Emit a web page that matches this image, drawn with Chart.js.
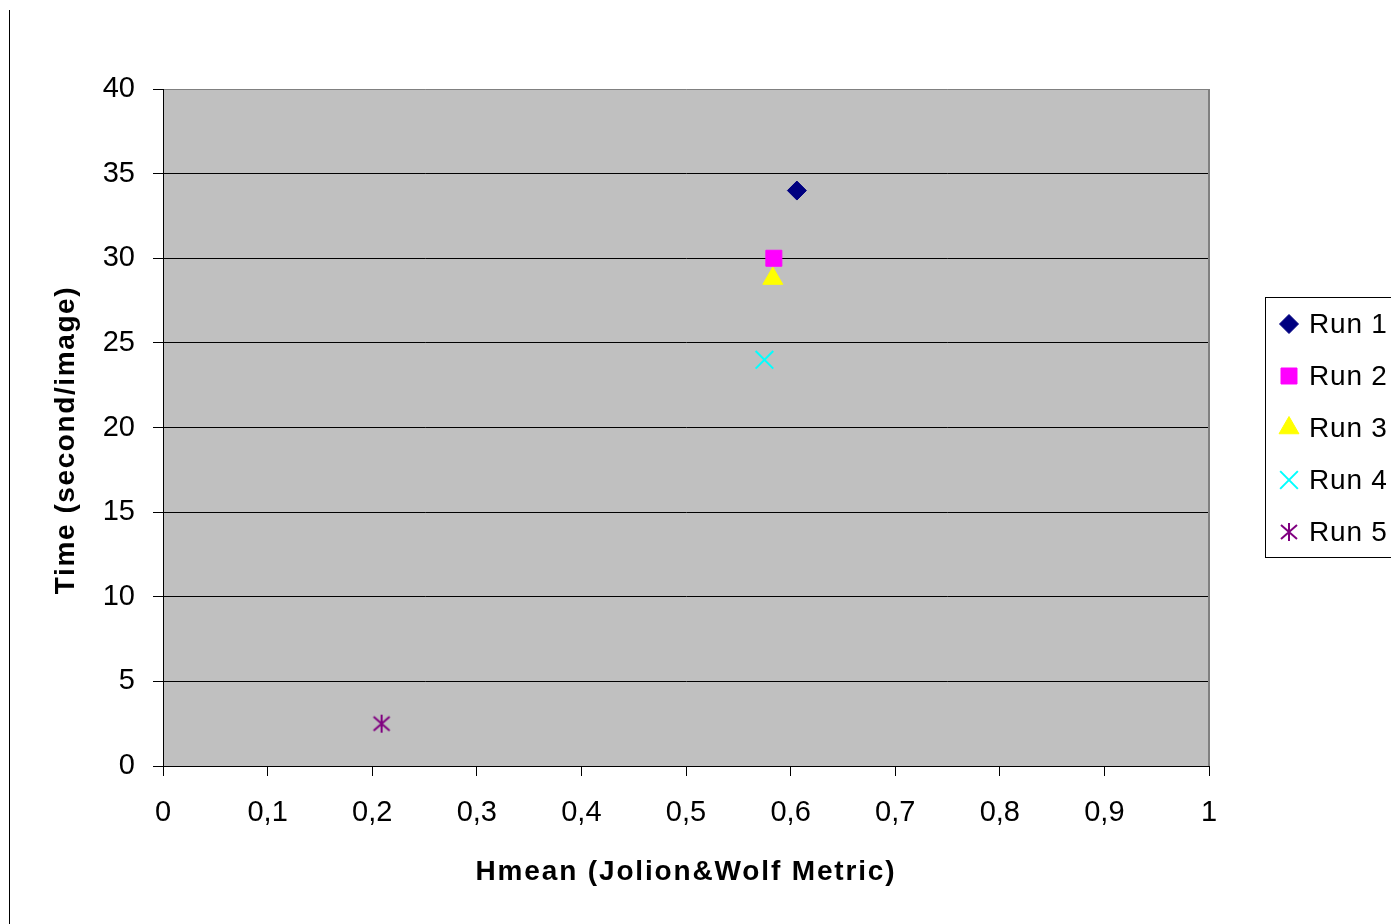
<!DOCTYPE html>
<html>
<head>
<meta charset="utf-8">
<script src="https://cdn.jsdelivr.net/npm/chart.js@4/dist/chart.umd.min.js"></script>
<style>
  html, body { margin: 0; padding: 0; background: #fff; overflow: hidden; }
  #wrap { position: relative; width: 1391px; height: 924px; }
  #edge { position: absolute; left: 9px; top: 10px; width: 1px; height: 914px; background: #000; }
  canvas { position: absolute; left: 0; top: 0; }
</style>
</head>
<body>
<div id="wrap">
  <canvas id="c" width="1391" height="924"></canvas>
  <div id="edge"></div>
</div>
<script>
// Detection quality vs. processing time for each run
const runNames = ['Run 1', 'Run 2', 'Run 3', 'Run 4', 'Run 5'];
const hmean = [0.606, 0.584, 0.583, 0.575, 0.209];
const timePerImage = [34, 30, 28.8, 24, 2.5];

const xTickLabels = ['0', '0,1', '0,2', '0,3', '0,4', '0,5', '0,6', '0,7', '0,8', '0,9', '1'];
const yTickLabels = ['0', '5', '10', '15', '20', '25', '30', '35', '40'];

// marker look per run
const runColors = ['#000080', '#FF00FF', '#FFFF00', '#00FFFF', '#800080'];

const FONT = "'Liberation Sans', Arial, sans-serif";
const TITLE_SPACING = { x: '1.85px', y: '1.6px' };

// six-armed asterisk marker
function asteriskMarker(color) {
  const s = 22, c = document.createElement('canvas');
  c.width = s; c.height = s;
  const g = c.getContext('2d');
  g.strokeStyle = color; g.lineWidth = 2; g.lineCap = 'butt';
  g.beginPath();
  g.moveTo(s / 2, 2); g.lineTo(s / 2, s - 2);
  g.moveTo(3, 4); g.lineTo(s - 3, s - 4);
  g.moveTo(s - 3, 4); g.lineTo(3, s - 4);
  g.stroke();
  return c;
}

const runStyles = [
  { pointStyle: 'rectRot', pointRadius: 9.5, borderWidth: 1 },
  { pointStyle: 'rect', pointRadius: 11.3, borderWidth: 1 },
  { pointStyle: 'triangle', pointRadius: 11.5, borderWidth: 1 },
  { pointStyle: 'crossRot', pointRadius: 12.5, borderWidth: 2 },
  { pointStyle: asteriskMarker(runColors[4]), pointRadius: 10, borderWidth: 0 }
];

const datasets = runNames.map((name, i) => ({
  label: name,
  data: [{ x: hmean[i], y: timePerImage[i] }],
  backgroundColor: runColors[i],
  borderColor: runColors[i],
  pointStyle: runStyles[i].pointStyle,
  pointRadius: runStyles[i].pointRadius,
  pointHoverRadius: runStyles[i].pointRadius,
  borderWidth: runStyles[i].borderWidth,
  pointBorderWidth: runStyles[i].borderWidth
}));

const plotFrame = {
  id: 'plotFrame',
  beforeDraw(chart) {
    const { ctx, chartArea: a } = chart;
    // axis titles are drawn slightly letter-spaced
    Object.values(chart.scales).forEach((s) => {
      if (s._spacedTitle) return;
      const orig = s.drawTitle;
      const spacing = TITLE_SPACING[s.id] || '0px';
      s.drawTitle = function () {
        const prev = this.ctx.letterSpacing;
        this.ctx.letterSpacing = spacing;
        orig.apply(this, arguments);
        this.ctx.letterSpacing = prev;
      };
      s._spacedTitle = true;
    });
    ctx.save();
    ctx.fillStyle = '#C0C0C0';
    ctx.fillRect(a.left, a.top, a.right - a.left, a.bottom - a.top);
    ctx.restore();
  },
  beforeDatasetsDraw(chart) {
    const { ctx, chartArea: a } = chart;
    ctx.save();
    ctx.strokeStyle = '#808080';
    ctx.lineWidth = 2;
    ctx.beginPath();
    ctx.moveTo(Math.round(a.right), a.top);
    ctx.lineTo(Math.round(a.right), a.bottom);
    ctx.stroke();
    ctx.restore();
  },
  afterDraw(chart) {
    // boxed legend to the right of the plot
    const { ctx } = chart;
    const h = Chart.helpers;
    ctx.save();
    ctx.strokeStyle = '#000';
    ctx.lineWidth = 1;
    ctx.strokeRect(1265.5, 297.5, 200, 260);
    ctx.font = '28px ' + FONT;
    ctx.letterSpacing = '0.8px';
    ctx.textBaseline = 'middle';
    ctx.textAlign = 'left';
    chart.data.datasets.forEach((ds, i) => {
      const y = 324 + i * 52;
      ctx.fillStyle = ds.backgroundColor;
      ctx.strokeStyle = ds.borderColor;
      ctx.lineWidth = ds.borderWidth;
      h.drawPoint(ctx, { pointStyle: ds.pointStyle, radius: ds.pointRadius, rotation: 0, borderWidth: ds.borderWidth }, 1289, y);
      ctx.fillStyle = '#000';
      ctx.fillText(ds.label, 1309, y + 1);
    });
    ctx.restore();
  }
};

new Chart(document.getElementById('c'), {
  type: 'scatter',
  data: { datasets },
  plugins: [plotFrame],
  options: {
    responsive: false,
    animation: false,
    events: [],
    layout: { padding: { top: 89, right: 182, bottom: 0, left: 0 } },
    plugins: { legend: { display: false }, tooltip: { enabled: false } },
    scales: {
      x: {
        type: 'linear',
        min: 0, max: 1,
        afterFit(s) { s.height = 158; },
        afterBuildTicks(s) { s.ticks = xTickLabels.map((_, i) => ({ value: i / 10 })); },
        ticks: {
          callback: (v, i) => xTickLabels[i],
          color: '#000',
          font: { family: FONT, size: 29 },
          padding: 20,
          maxRotation: 0,
          autoSkip: false
        },
        grid: { drawOnChartArea: false, drawTicks: true, tickLength: 10, color: '#000', tickColor: '#000' },
        border: { color: '#000', width: 1 },
        title: {
          display: true,
          text: 'Hmean (Jolion&Wolf Metric)',
          color: '#000',
          font: { family: FONT, size: 28, weight: 'bold' },
          padding: { top: 0, bottom: 35 }
        }
      },
      y: {
        type: 'linear',
        min: 0, max: 40,
        afterFit(s) { s.width = 163; },
        afterBuildTicks(s) { s.ticks = yTickLabels.map((_, i) => ({ value: i * 5 })); },
        ticks: {
          callback: (v, i) => yTickLabels[i],
          color: '#000',
          font: { family: FONT, size: 29 },
          padding: 18,
          autoSkip: false
        },
        grid: {
          color: (c) => (c.tick && c.tick.value === 40 ? '#808080' : '#000'),
          tickColor: '#000',
          tickLength: 10,
          lineWidth: 1
        },
        border: { color: '#000', width: 1 },
        title: {
          display: true,
          text: 'Time (second/image)\u2002 ',
          color: '#000',
          font: { family: FONT, size: 28, weight: 'bold' },
          padding: { top: 49, bottom: 0 }
        }
      }
    }
  }
});
</script>
</body>
</html>
